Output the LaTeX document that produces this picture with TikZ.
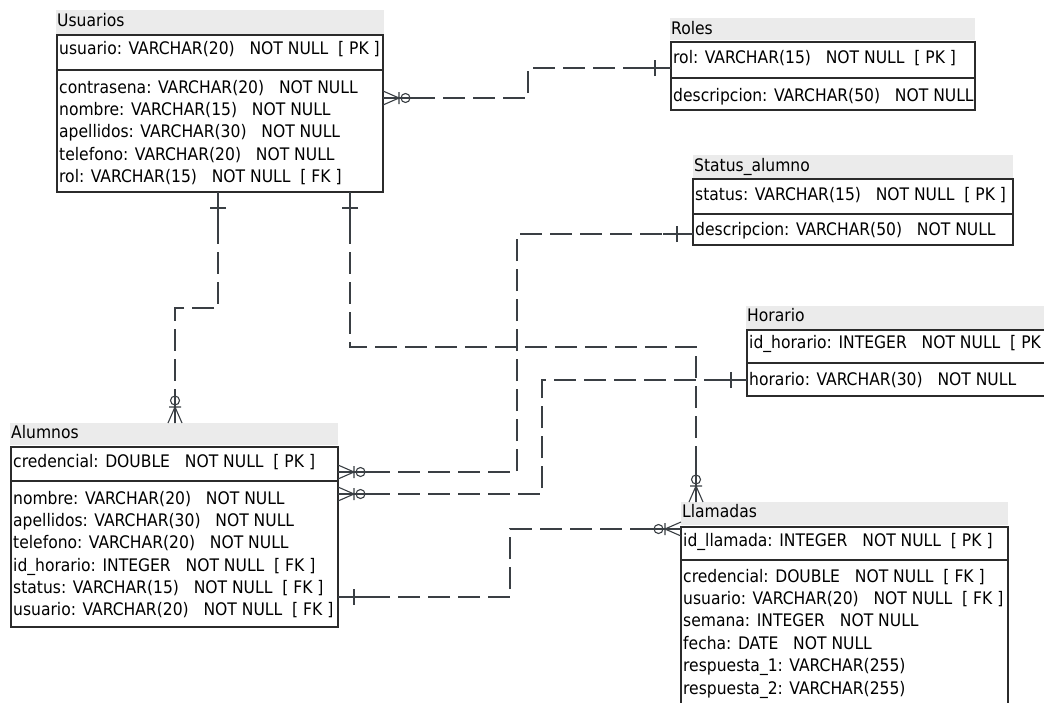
\documentclass[tikz,border=0pt]{standalone}
\usepackage{fontspec}
\setmainfont{DejaVu Sans Condensed}
\definecolor{titlegray}{HTML}{EBEBEB}
\definecolor{linegray}{HTML}{3A3F44}
\definecolor{boxline}{HTML}{2B2B2B}
\tikzset{
  ttl/.style={fill=titlegray, draw=none, rectangle, inner sep=0pt, outer sep=0pt, anchor=north west},
  tbl/.style={draw=boxline, line width=1.1pt, rectangle, inner sep=0pt, outer sep=0pt, anchor=north west},
  lbl/.style={anchor=west, inner sep=0pt, font=\fontsize{17.3pt}{19pt}\selectfont, text height=12pt, text depth=3pt},
  conn/.style={draw=linegray, line width=1.1pt, dash pattern=on 22pt off 8pt},
  solidln/.style={draw=linegray, line width=1.1pt},
  zeromany/.pic={\draw[solidln] (0,-7)--(16,0)--(0,7) (0,0)--(16,0) (16,-6)--(16,6);
                 \draw[solidln] (22.5,0) circle[radius=4.5pt];},
  onetick/.pic={\draw[solidln] (16,-8)--(16,8);}
}
\begin{document}
\begin{tikzpicture}[x=1pt,y=-1pt]
\useasboundingbox (0,0) rectangle (1044,702);
\clip (0,0) rectangle (1044,702);
\fill[white] (0,0) rectangle (1044,702);

% ---------- Usuarios
\node[ttl, minimum width=328pt, minimum height=24pt] (usuT) at (56,10) {};
\node[lbl] (usuTt) at (57,22) {Usuarios};
\node[tbl, minimum width=326pt, minimum height=35pt] (usuPK) at (57,35) {};
\node[tbl, minimum width=326pt, minimum height=122pt] (usuA) at (57,70) {};
\node[lbl] (usu0) at (59,50) {usuario: VARCHAR(20)\ \ \ NOT NULL\ \ [ PK ]};
\node[lbl] (usu1) at (59,89) {contrasena: VARCHAR(20)\ \ \ NOT NULL};
\node[lbl] (usu2) at (59,111) {nombre: VARCHAR(15)\ \ \ NOT NULL};
\node[lbl] (usu3) at (59,133) {apellidos: VARCHAR(30)\ \ \ NOT NULL};
\node[lbl] (usu4) at (59,156) {telefono: VARCHAR(20)\ \ \ NOT NULL};
\node[lbl] (usu5) at (59,178) {rol: VARCHAR(15)\ \ \ NOT NULL\ \ [ FK ]};

% ---------- Roles
\node[ttl, minimum width=305pt, minimum height=22pt] (rolT) at (670,18) {};
\node[lbl] (rolTt) at (671,30) {Roles};
\node[tbl, minimum width=304pt, minimum height=36pt] (rolPK) at (671,42) {};
\node[tbl, minimum width=304pt, minimum height=32pt] (rolA) at (671,78) {};
\node[lbl] (rol0) at (673,59) {rol: VARCHAR(15)\ \ \ NOT NULL\ \ [ PK ]};
\node[lbl] (rol1) at (673,97) {descripcion: VARCHAR(50)\ \ \ NOT NULL};

% ---------- Status_alumno
\node[ttl, minimum width=320pt, minimum height=23pt] (staT) at (693,155) {};
\node[lbl] (staTt) at (694,167) {Status\_alumno};
\node[tbl, minimum width=320pt, minimum height=35pt] (staPK) at (693,179) {};
\node[tbl, minimum width=320pt, minimum height=31pt] (staA) at (693,214) {};
\node[lbl] (sta0) at (695,196) {status: VARCHAR(15)\ \ \ NOT NULL\ \ [ PK ]};
\node[lbl] (sta1) at (695,231) {descripcion: VARCHAR(50)\ \ \ NOT NULL};

% ---------- Horario
\node[ttl, minimum width=320pt, minimum height=23pt] (horT) at (746,306) {};
\node[lbl] (horTt) at (747,317) {Horario};
\node[tbl, minimum width=310pt, minimum height=33pt] (horPK) at (747,330) {};
\node[tbl, minimum width=310pt, minimum height=33pt] (horA) at (747,363) {};
\node[lbl] (hor0) at (749,344) {id\_horario: INTEGER\ \ \ NOT NULL\ \ [ PK ]};
\node[lbl] (hor1) at (749,381) {horario: VARCHAR(30)\ \ \ NOT NULL};

% ---------- Alumnos
\node[ttl, minimum width=328pt, minimum height=22pt] (aluT) at (10,423) {};
\node[lbl] (aluTt) at (11,434) {Alumnos};
\node[tbl, minimum width=327pt, minimum height=34pt] (aluPK) at (11,447) {};
\node[tbl, minimum width=327pt, minimum height=146pt] (aluA) at (11,481) {};
\node[lbl] (alu0) at (13,463) {credencial: DOUBLE\ \ \ NOT NULL\ \ [ PK ]};
\node[lbl] (alu1) at (13,500) {nombre: VARCHAR(20)\ \ \ NOT NULL};
\node[lbl] (alu2) at (13,522) {apellidos: VARCHAR(30)\ \ \ NOT NULL};
\node[lbl] (alu3) at (13,544) {telefono: VARCHAR(20)\ \ \ NOT NULL};
\node[lbl] (alu4) at (13,567) {id\_horario: INTEGER\ \ \ NOT NULL\ \ [ FK ]};
\node[lbl] (alu5) at (13,589) {status: VARCHAR(15)\ \ \ NOT NULL\ \ [ FK ]};
\node[lbl] (alu6) at (13,611) {usuario: VARCHAR(20)\ \ \ NOT NULL\ \ [ FK ]};

% ---------- Llamadas
\node[ttl, minimum width=327pt, minimum height=23pt] (llaT) at (681,502) {};
\node[lbl] (llaTt) at (682,513) {Llamadas};
\node[tbl, minimum width=327pt, minimum height=33pt] (llaPK) at (681,527) {};
\node[tbl, minimum width=327pt, minimum height=200pt] (llaA) at (681,560) {};
\node[lbl] (lla0) at (683,542) {id\_llamada: INTEGER\ \ \ NOT NULL\ \ [ PK ]};
\node[lbl] (lla1) at (683,578) {credencial: DOUBLE\ \ \ NOT NULL\ \ [ FK ]};
\node[lbl] (lla2) at (683,600) {usuario: VARCHAR(20)\ \ \ NOT NULL\ \ [ FK ]};
\node[lbl] (lla3) at (683,622) {semana: INTEGER\ \ \ NOT NULL};
\node[lbl] (lla4) at (683,645) {fecha: DATE\ \ \ NOT NULL};
\node[lbl] (lla5) at (683,667) {respuesta\_1: VARCHAR(255)};
\node[lbl] (lla6) at (683,690) {respuesta\_2: VARCHAR(255)};

% ---------- connector end points
\coordinate (c1a) at (383,98);  \coordinate (c1b) at (671,68);
\coordinate (c2a) at (218,192); \coordinate (c2b) at (175,423);
\coordinate (c3a) at (350,192); \coordinate (c3b) at (696,502);
\coordinate (c4a) at (338,472); \coordinate (c4b) at (693,234);
\coordinate (c5a) at (338,494); \coordinate (c5b) at (747,380);
\coordinate (c6a) at (338,597); \coordinate (c6b) at (681,529);

% Usuarios -> Roles
\draw[conn] (c1a) -- (528,98) -- (528,68) -- (c1b);
\draw[solidln] (c1a) -- ++(36,0);  \draw[solidln] (c1b) -- ++(-30,0);
\pic at (c1a) {zeromany}; \pic[rotate=180] at (c1b) {onetick};

% Usuarios -> Alumnos
\draw[conn] (c2a) -- (218,308) -- (175,308) -- (c2b);
\draw[solidln] (c2a) -- ++(0,50);  \draw[solidln] (c2b) -- ++(0,-34);
\pic[rotate=270] at (c2a) {onetick}; \pic[rotate=90] at (c2b) {zeromany};

% Usuarios -> Llamadas
\draw[conn] (c3a) -- (350,347) -- (696,347) -- (c3b);
\draw[solidln] (c3a) -- ++(0,50);  \draw[solidln] (c3b) -- ++(0,-34);
\pic[rotate=270] at (c3a) {onetick}; \pic[rotate=90] at (c3b) {zeromany};

% Alumnos -> Status_alumno
\draw[conn] (c4a) -- (517,472) -- (517,234) -- (c4b);
\draw[solidln] (c4a) -- ++(34,0);  \draw[solidln] (c4b) -- ++(-30,0);
\pic at (c4a) {zeromany}; \pic[rotate=180] at (c4b) {onetick};

% Alumnos -> Horario
\draw[conn] (c5a) -- (542,494) -- (542,380) -- (c5b);
\draw[solidln] (c5a) -- ++(34,0);  \draw[solidln] (c5b) -- ++(-30,0);
\pic at (c5a) {zeromany}; \pic[rotate=180] at (c5b) {onetick};

% Alumnos -> Llamadas
\draw[conn] (c6a) -- (510,597) -- (510,529) -- (c6b);
\draw[solidln] (c6a) -- ++(30,0);  \draw[solidln] (c6b) -- ++(-34,0);
\pic at (c6a) {onetick}; \pic[rotate=180] at (c6b) {zeromany};
\end{tikzpicture}
\end{document}
